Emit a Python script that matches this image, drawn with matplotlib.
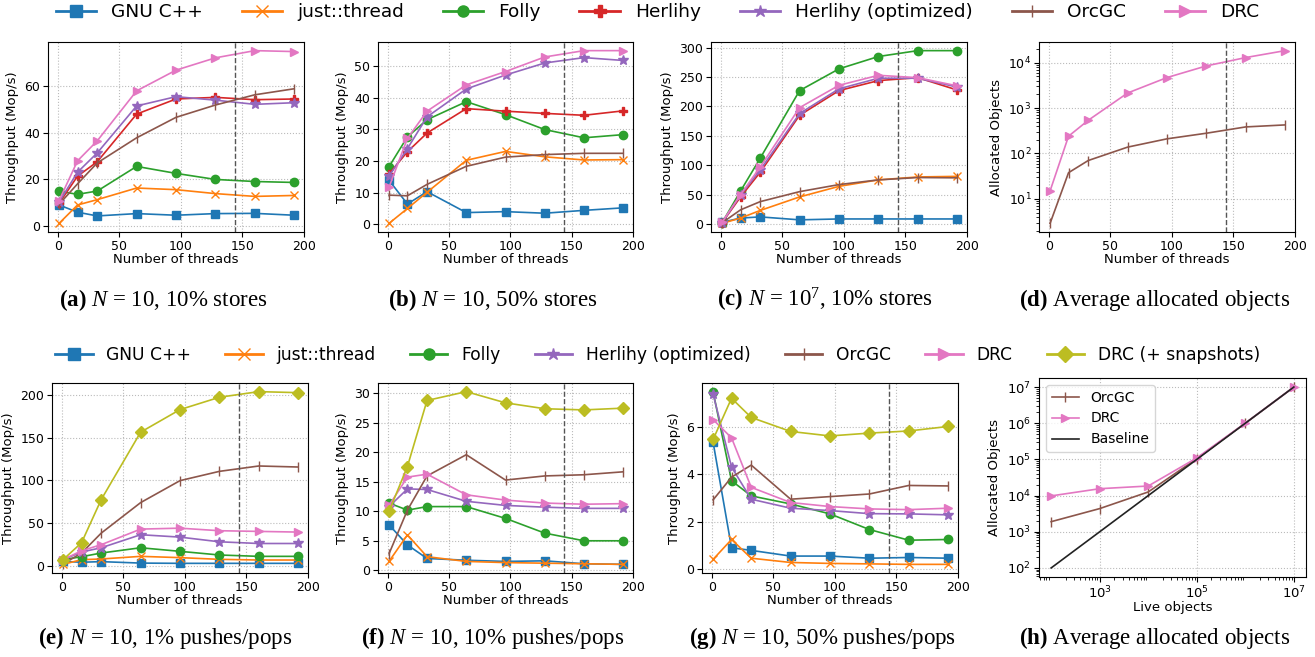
import numpy as np
import matplotlib
matplotlib.use("Agg")
from matplotlib import pyplot as plt
from matplotlib.lines import Line2D

plt.rcParams['mathtext.fontset'] = 'custom'
plt.rcParams['mathtext.rm'] = 'Liberation Serif'
plt.rcParams['mathtext.it'] = 'Liberation Serif:italic'
plt.rcParams['mathtext.bf'] = 'Liberation Serif:bold'

threads = [1, 16, 32, 64, 96, 128, 160, 192]

# (a) N = 10, 10% stores
a_gnu = [9.0, 5.9, 4.3, 5.3, 4.6, 5.3, 5.4, 4.6]
a_just = [1.1, 9.0, 11.3, 16.3, 15.6, 13.9, 12.7, 13.1]
a_folly = [14.9, 13.6, 15.0, 25.6, 22.6, 20.0, 19.1, 18.7]
a_herlihy = [9.7, 21.4, 27.6, 48.1, 54.6, 55.3, 54.3, 54.6]
a_herlihy_opt = [10.3, 23.1, 31.4, 51.6, 55.6, 54.1, 52.3, 53.0]
a_orcgc = [9.3, 18.1, 27.1, 37.9, 46.7, 52.0, 56.4, 59.0]
a_drc = [10.9, 28.0, 36.6, 58.1, 67.0, 72.3, 75.4, 75.0]

# (b) N = 10, 50% stores
b_gnu = [13.9, 6.4, 10.3, 3.7, 4.0, 3.5, 4.4, 5.2]
b_just = [0.3, 5.0, 10.1, 20.2, 23.0, 21.3, 20.3, 20.4]
b_folly = [18.2, 27.6, 33.0, 38.7, 34.6, 29.9, 27.3, 28.3]
b_herlihy = [15.9, 22.9, 28.8, 36.5, 35.7, 35.0, 34.4, 35.8]
b_herlihy_opt = [15.2, 23.9, 33.9, 42.7, 47.1, 50.9, 52.6, 51.7]
b_orcgc = [9.2, 9.0, 12.6, 18.3, 21.2, 22.0, 22.4, 22.4]
b_drc = [11.7, 27.1, 35.7, 44.0, 48.2, 52.8, 54.8, 54.8]

# (c) N = 10^7, 10% stores
c_gnu = [2.8, 10, 12, 7, 8.5, 8.5, 8.5, 8.5]
c_just = [1, 10, 23, 46, 64, 75, 80, 81]
c_folly = [2, 56, 112, 227, 264, 285, 295, 295]
c_herlihy = [2, 46, 88, 185, 227, 244, 249, 228]
c_herlihy_opt = [2, 49, 92, 188, 230, 248, 248, 233]
c_orcgc = [2, 24, 38, 55, 67, 75, 79, 78.5]
c_drc = [3, 50, 97, 198, 236, 253, 249, 235]

# (d) average allocated objects
d_orcgc = [2.9, 37.8, 70, 138, 210, 279, 384, 425]
d_drc = [15, 240, 537, 2140, 4680, 8450, 12900, 18300]

# (e) N = 10, 1% pushes/pops
e_gnu = [5.0, 4.0, 4.7, 3.0, 2.7, 2.7, 2.7, 2.7]
e_just = [1.5, 7.0, 7.8, 10.9, 9.4, 7.4, 6.6, 6.6]
e_folly = [7.0, 10.5, 14.8, 21.0, 16.8, 12.5, 10.9, 10.9]
e_herlihy_opt = [7.0, 16.0, 21.0, 36.3, 33.5, 28.0, 26.0, 26.0]
e_orcgc = [2.0, 14.8, 38.2, 74.0, 99.8, 110.7, 117.0, 115.8]
e_drc = [7.0, 17.5, 24.6, 42.9, 44.0, 41.0, 40.2, 39.4]
e_drc_snap = [7.0, 26.9, 77.6, 156.7, 183.2, 197.7, 204.3, 203.1]

# (f) N = 10, 10% pushes/pops
f_gnu = [7.7, 4.3, 2.0, 1.7, 1.5, 1.6, 1.1, 1.0]
f_just = [1.5, 6.0, 2.3, 1.5, 1.3, 1.2, 1.1, 1.0]
f_folly = [11.4, 10.2, 10.8, 10.8, 8.8, 6.3, 5.0, 5.0]
f_herlihy_opt = [10.8, 13.8, 13.7, 11.7, 11.0, 10.7, 10.5, 10.5]
f_orcgc = [2.8, 10.2, 16.0, 19.6, 15.3, 16.0, 16.2, 16.7]
f_drc = [11.0, 15.8, 16.3, 12.8, 11.9, 11.4, 11.2, 11.3]
f_drc_snap = [10.0, 17.6, 28.8, 30.3, 28.4, 27.4, 27.2, 27.5]

# (g) N = 10, 50% pushes/pops
g_gnu = [5.36, 0.9, 0.79, 0.55, 0.55, 0.46, 0.49, 0.46]
g_just = [0.41, 1.25, 0.46, 0.28, 0.24, 0.22, 0.2, 0.2]
g_folly = [7.49, 3.73, 3.09, 2.75, 2.33, 1.67, 1.22, 1.25]
g_herlihy_opt = [7.39, 4.31, 2.95, 2.57, 2.47, 2.34, 2.33, 2.29]
g_orcgc = [2.92, 3.88, 4.39, 2.95, 3.06, 3.17, 3.53, 3.51]
g_drc = [6.31, 5.54, 3.45, 2.81, 2.64, 2.54, 2.51, 2.57]
g_drc_snap = [5.47, 7.21, 6.4, 5.81, 5.62, 5.74, 5.83, 6.02]

# (h) average allocated objects vs live objects
live = [1e2, 1e3, 1e4, 1e5, 1e6, 1e7]
h_orcgc = [1900, 4370, 12600, 105000, 1.0e6, 1.0e7]
h_drc = [9800, 15500, 18400, 110000, 1.01e6, 1.0e7]

captions_top = [r"$\mathbf{(a)}$ $N$ = 10, 10% stores",
                r"$\mathbf{(b)}$ $N$ = 10, 50% stores",
                r"$\mathbf{(c)}$ $N$ = $10^7$, 10% stores",
                r"$\mathbf{(d)}$ Average allocated objects"]
captions_bot = [r"$\mathbf{(e)}$ $N$ = 10, 1% pushes/pops",
                r"$\mathbf{(f)}$ $N$ = 10, 10% pushes/pops",
                r"$\mathbf{(g)}$ $N$ = 10, 50% pushes/pops",
                r"$\mathbf{(h)}$ Average allocated objects"]

style = {
    'GNU C++': ('C0', 's', 6),
    'just::thread': ('C1', 'x', 6),
    'Folly': ('C2', 'o', 6),
    'Herlihy': ('C3', 'P', 6),
    'Herlihy (optimized)': ('C4', '*', 7),
    'OrcGC': ('C5', '|', 7),
    'DRC': ('C6', '>', 6),
    'DRC (+ snapshots)': ('C8', 'D', 6),
}

W, H = 1315, 657
fig = plt.figure(figsize=(W / 100, H / 100), dpi=100)
TICK = 9
LAB = 9.5

def px_axes(l, t, r, b):
    return fig.add_axes([l / W, 1 - b / H, (r - l) / W, (b - t) / H])

def draw(ax, series):
    for name, ys in series:
        c, m, ms = style[name]
        ax.plot(threads, ys, color=c, marker=m, markersize=ms, lw=1.2, label=name)
    ax.axvline(144, color='#555555', ls='--', lw=1)
    ax.grid(True, ls=':', color='#bbbbbb', lw=0.8)
    ax.set_xlim(-8, 200)
    ax.set_xticks([0, 50, 100, 150, 200])
    ax.set_xlabel('Number of threads', fontsize=LAB, labelpad=0)
    ax.tick_params(labelsize=TICK, pad=2)

ax_a = px_axes(48, 42, 304, 232)
draw(ax_a, [('GNU C++', a_gnu), ('just::thread', a_just), ('Folly', a_folly),
            ('Herlihy', a_herlihy), ('Herlihy (optimized)', a_herlihy_opt),
            ('OrcGC', a_orcgc), ('DRC', a_drc)])
ax_a.set_ylabel('Throughput (Mop/s)', fontsize=LAB)

ax_b = px_axes(378, 42, 633, 232)
draw(ax_b, [('GNU C++', b_gnu), ('just::thread', b_just), ('Folly', b_folly),
            ('Herlihy', b_herlihy), ('Herlihy (optimized)', b_herlihy_opt),
            ('OrcGC', b_orcgc), ('DRC', b_drc)])
ax_b.set_ylabel('Throughput (Mop/s)', fontsize=LAB)

ax_c = px_axes(711, 42, 967, 232)
draw(ax_c, [('GNU C++', c_gnu), ('just::thread', c_just), ('Folly', c_folly),
            ('Herlihy', c_herlihy), ('Herlihy (optimized)', c_herlihy_opt),
            ('OrcGC', c_orcgc), ('DRC', c_drc)])
ax_c.set_ylabel('Throughput (Mop/s)', fontsize=LAB)

ax_d = px_axes(1039, 42, 1295, 232)
draw(ax_d, [('OrcGC', d_orcgc), ('DRC', d_drc)])
ax_d.set_yscale('log')
ax_d.set_ylabel('Allocated Objects', fontsize=LAB)

ax_e = px_axes(52, 383, 308, 573)
draw(ax_e, [('GNU C++', e_gnu), ('just::thread', e_just), ('Folly', e_folly),
            ('Herlihy (optimized)', e_herlihy_opt), ('OrcGC', e_orcgc),
            ('DRC', e_drc), ('DRC (+ snapshots)', e_drc_snap)])
ax_e.set_ylabel('Throughput (Mop/s)', fontsize=LAB)

ax_f = px_axes(378, 383, 633, 573)
draw(ax_f, [('GNU C++', f_gnu), ('just::thread', f_just), ('Folly', f_folly),
            ('Herlihy (optimized)', f_herlihy_opt), ('OrcGC', f_orcgc),
            ('DRC', f_drc), ('DRC (+ snapshots)', f_drc_snap)])
ax_f.set_ylabel('Throughput (Mop/s)', fontsize=LAB)

ax_g = px_axes(702, 383, 958, 573)
draw(ax_g, [('GNU C++', g_gnu), ('just::thread', g_just), ('Folly', g_folly),
            ('Herlihy (optimized)', g_herlihy_opt), ('OrcGC', g_orcgc),
            ('DRC', g_drc), ('DRC (+ snapshots)', g_drc_snap)])
ax_g.set_ylabel('Throughput (Mop/s)', fontsize=LAB)

ax_h = px_axes(1039, 378, 1306, 577)
for name, ys in [('OrcGC', h_orcgc), ('DRC', h_drc)]:
    c, m, ms = style[name]
    ax_h.plot(live, ys, color=c, marker=m, markersize=ms, lw=1.2, label=name)
ax_h.plot(live, live, color='#222222', lw=1.2, label='Baseline')
ax_h.set_xscale('log')
ax_h.set_yscale('log')
ax_h.set_xticks([1e3, 1e5, 1e7])
ax_h.grid(True, ls=':', color='#bbbbbb', lw=0.8)
ax_h.tick_params(labelsize=TICK + 0.5, pad=2)
ax_h.set_xlabel('Live objects', fontsize=LAB, labelpad=0)
ax_h.set_ylabel('Allocated Objects', fontsize=LAB)
ax_h.legend(loc='upper left', fontsize=10)

# shared legends
top_names = ['GNU C++', 'just::thread', 'Folly', 'Herlihy', 'Herlihy (optimized)', 'OrcGC', 'DRC']
bot_names = ['GNU C++', 'just::thread', 'Folly', 'Herlihy (optimized)', 'OrcGC', 'DRC', 'DRC (+ snapshots)']
def handles(names):
    return [Line2D([], [], color=style[n][0], marker=style[n][1], markersize=style[n][2] + 2, lw=2) for n in names]

fig.legend(handles(top_names), top_names, loc='center', bbox_to_anchor=(0.5, 1 - 12 / H),
           ncol=7, frameon=False, fontsize=13.3, handlelength=2.2, columnspacing=2.1)
fig.legend(handles(bot_names), bot_names, loc='center', bbox_to_anchor=(0.5, 1 - 355 / H),
           ncol=7, frameon=False, fontsize=12.3, handlelength=2.2)

for cap, cx in zip(captions_top, [163, 493, 825, 1155]):
    fig.text(cx / W, 1 - 300 / H, cap, ha='center', va='center', fontsize=16.5, family='Liberation Serif')
for cap, cx in zip(captions_bot, [165, 493, 823, 1155]):
    fig.text(cx / W, 1 - 638 / H, cap, ha='center', va='center', fontsize=16.5, family='Liberation Serif')

plt.savefig('out.png', dpi=100)
